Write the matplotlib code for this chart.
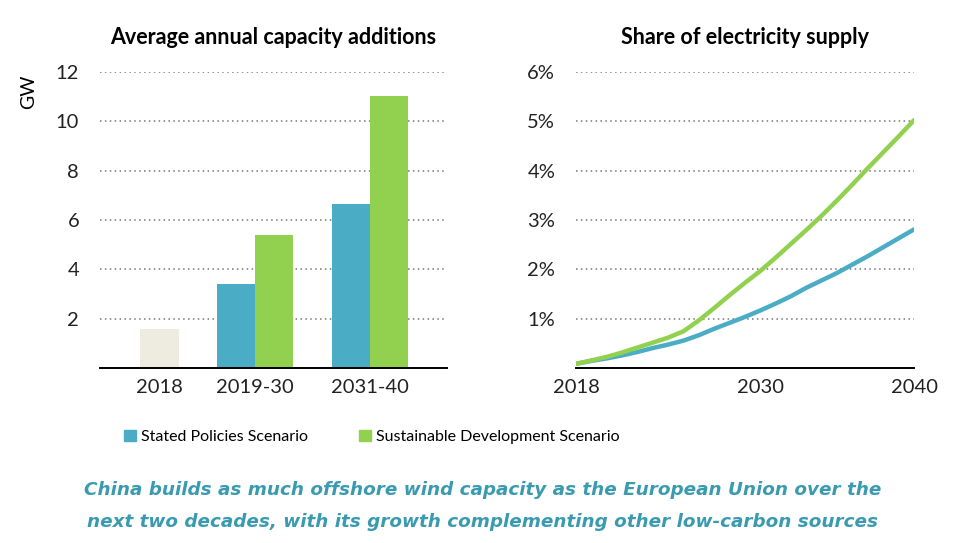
import numpy as np
import matplotlib
matplotlib.use("Agg")
import matplotlib.pyplot as plt
from matplotlib.patches import Patch

plt.rcParams['font.family'] = ['Lato', 'DejaVu Sans']

# data
periods = ["2018", "2019-30", "2031-40"]
hist_2018 = 1.6
steps_add = [3.4, 6.65]     # Stated Policies, GW/yr
sds_add = [5.4, 11.0]       # Sustainable Development, GW/yr

years = np.arange(2018, 2041)
steps_share = [0.09, 0.15, 0.20, 0.26, 0.33, 0.41, 0.48, 0.56, 0.67, 0.80, 0.92, 1.04,
               1.17, 1.31, 1.46, 1.63, 1.78, 1.93, 2.10, 2.27, 2.45, 2.63, 2.81]
sds_share = [0.09, 0.16, 0.23, 0.32, 0.42, 0.52, 0.62, 0.75, 0.97, 1.22, 1.48, 1.73,
             1.97, 2.24, 2.52, 2.80, 3.09, 3.40, 3.72, 4.05, 4.37, 4.69, 5.02]

blue = '#4BACC6'
green = '#92D050'
beige = '#EEECE1'
teal = '#3A9BB0'

W, H = 954, 543
fig = plt.figure(figsize=(W / 100, H / 100), dpi=100)

def box(x0, x1, ytop, ybot):
    return [x0 / W, 1 - ybot / H, (x1 - x0) / W, (ybot - ytop) / H]

def style(ax):
    for s in ['top', 'right', 'left']:
        ax.spines[s].set_visible(False)
    ax.spines['bottom'].set_linewidth(1.4)
    ax.spines['bottom'].set_color('black')
    ax.tick_params(axis='both', length=0, labelsize=14.5, colors='#222222')
    ax.tick_params(axis='y', pad=15)
    ax.tick_params(axis='x', pad=8)
    ax.yaxis.grid(True, linestyle=(0, (1, 2.2)), color='#777777', linewidth=1.1)
    ax.set_axisbelow(True)

# left: capacity additions
ax1 = fig.add_axes(box(100, 447, 71.7, 368.3))
style(ax1)
bw = 1.0
centers = [1.55, 4.05, 7.05]
ax1.bar(centers[0], hist_2018, width=bw, color=beige)
ax1.bar(np.array(centers[1:]) - bw / 2, steps_add, width=bw, color=blue)
ax1.bar(np.array(centers[1:]) + bw / 2, sds_add, width=bw, color=green)
ax1.set_xlim(0, 9.06)
ax1.set_ylim(0, 12)
ax1.set_yticks([2, 4, 6, 8, 10, 12])
ax1.set_xticks(centers)
ax1.set_xticklabels(periods)
ax1.set_title("Average annual capacity additions", fontsize=15.5, fontweight='bold', pad=20)
fig.text(29 / W, 1 - 92 / H, "GW", rotation=90, ha='center', va='center', fontsize=14)

# right: share of electricity supply
ax2 = fig.add_axes(box(576, 914, 71.7, 368.3))
style(ax2)
ax2.plot(years, steps_share, color=blue, lw=3.2, solid_capstyle='round')
ax2.plot(years, sds_share, color=green, lw=3.2, solid_capstyle='round')
ax2.set_xlim(2018, 2040)
ax2.set_ylim(0, 6)
ax2.set_yticks([1, 2, 3, 4, 5, 6])
ax2.set_yticklabels([f"{v}%" for v in [1, 2, 3, 4, 5, 6]])
ax2.set_xticks([2018, 2030, 2040])
ax2.set_title("Share of electricity supply", fontsize=15.5, fontweight='bold', pad=20)

# legend
for lab, col, x in [("Stated Policies Scenario", blue, 124), ("Sustainable Development Scenario", green, 359)]:
    fig.legend(handles=[Patch(color=col)], labels=[lab], loc='center left',
               bbox_to_anchor=(x / W, 1 - 437 / H), frameon=False, fontsize=11.5,
               handlelength=0.75, handleheight=0.75, handletextpad=0.3,
               borderpad=0, borderaxespad=0)

caption = ["China builds as much offshore wind capacity as the European Union over the",
           "next two decades, with its growth complementing other low-carbon sources"]
for line, y in zip(caption, [490, 522]):
    fig.text(483 / W, 1 - y / H, line, ha='center', va='center', fontsize=13.2,
             fontweight='bold', style='italic', color=teal, family='DejaVu Sans')

fig.savefig("out.png", dpi=100)
